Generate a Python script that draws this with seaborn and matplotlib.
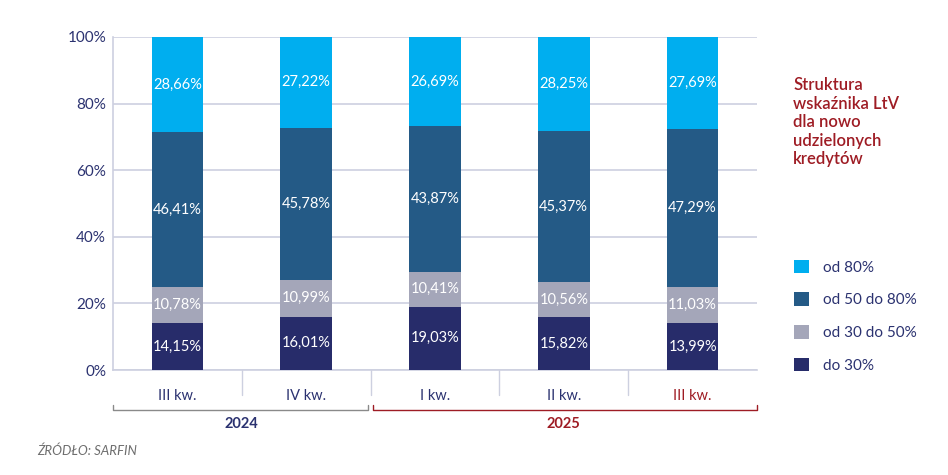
import matplotlib
matplotlib.use("Agg")
import matplotlib.pyplot as plt
import seaborn as sns
import numpy as np
import pandas as pd
from matplotlib.patches import Patch

# ---- data ----
quarters = ["III kw.", "IV kw.", "I kw.", "II kw.", "III kw. "]
quarter_labels = ["III kw.", "IV kw.", "I kw.", "II kw.", "III kw."]
years = ["2024", "2025"]
do30 = [14.15, 16.01, 19.03, 15.82, 13.99]
od30_50 = [10.78, 10.99, 10.41, 10.56, 11.03]
od50_80 = [46.41, 45.78, 43.87, 45.37, 47.29]
od80 = [28.66, 27.22, 26.69, 28.25, 27.69]
series_names = ["do 30%", "od 30 do 50%", "od 50 do 80%", "od 80%"]
title_text = "Struktura\nwskaźnika LtV\ndla nowo\nudzielonych\nkredytów"
source_text = "ŹRÓDŁO: SARFIN"

colors = ["#272C6A", "#A4A6B9", "#245A86", "#00AEEF"]
navy = "#2B3270"
red = "#9E1C24"
grid_c = "#CDD0E0"

sns.set_theme(style="white")
plt.rcParams["font.family"] = ["Lato", "DejaVu Sans"]

fig = plt.figure(figsize=(9.48, 4.75), dpi=100)
ax = fig.add_axes([113/948, 1-370/475, 644/948, 333/475])

series = [do30, od30_50, od50_80, od80]
cum = np.cumsum(np.array(series), axis=0)

# draw stacked bars: tallest cumulative first
for i in range(3, -1, -1):
    df = pd.DataFrame({"q": quarters, "v": cum[i]})
    sns.barplot(data=df, x="q", y="v", order=quarters, color=colors[i],
                width=0.40, saturation=1, ax=ax, zorder=3, linewidth=0)

# labels
for i in range(4):
    for j in range(5):
        bottom = cum[i][j] - series[i][j]
        mid = bottom + series[i][j] / 2
        ax.text(j, mid, f"{series[i][j]:.2f}%".replace(".", ","),
                ha="center", va="center", color="white", fontsize=10.5, zorder=5)

ax.set_ylim(0, 100)
ax.set_xlim(-0.5, 4.5)
ax.set_yticks([0, 20, 40, 60, 80, 100])
ax.set_yticklabels([f"{t}%" for t in [0, 20, 40, 60, 80, 100]], color=navy, fontsize=11)
ax.yaxis.grid(True, color=grid_c, linewidth=1.2, zorder=0)
ax.set_axisbelow(True)
ax.tick_params(axis="y", length=0, pad=5)
ax.tick_params(axis="x", length=0, pad=14)
ax.set_xticks(range(5))
ax.set_xticklabels(quarter_labels, fontsize=10.5)
for k, lab in enumerate(ax.get_xticklabels()):
    lab.set_color(red if k == 4 else navy)
ax.set_xlabel("")
ax.set_ylabel("")
for s in ["top", "right"]:
    ax.spines[s].set_visible(False)
for s in ["left", "bottom"]:
    ax.spines[s].set_color(grid_c)
    ax.spines[s].set_linewidth(1.2)

# separators below axis
trans = ax.get_xaxis_transform()
for xs in [0.5, 1.5, 2.5, 3.5]:
    ax.plot([xs, xs], [0, -0.075], color=grid_c, lw=1.0, transform=trans, clip_on=False)

# year brackets
yb, yt = -0.12, -0.105
ax.plot([-0.5, -0.5, 1.48, 1.48], [yt, yb, yb, yt], color="#8A8A8A", lw=1.0,
        transform=trans, clip_on=False)
ax.plot([1.52, 1.52, 4.5, 4.5], [yt, yb, yb, yt], color=red, lw=1.0,
        transform=trans, clip_on=False)
ax.text(0.5, -0.162, years[0], transform=trans, ha="center", va="center",
        color=navy, fontsize=10.5, fontweight="bold")
ax.text(3.0, -0.162, years[1], transform=trans, ha="center", va="center",
        color=red, fontsize=10.5, fontweight="bold")

# title
fig.text(793/948, 1-77/475, title_text, ha="left", va="top", color=red,
         fontsize=12, fontweight="semibold", linespacing=1.2)

# legend
handles = [Patch(facecolor=colors[i], edgecolor="none") for i in [3, 2, 1, 0]]
labels = [series_names[i] for i in [3, 2, 1, 0]]
leg = fig.legend(handles, labels, loc="upper left", bbox_to_anchor=(780/948, 1-246/475),
                 frameon=False, fontsize=11, labelspacing=1.15, handlelength=1.0,
                 handleheight=1.0, handletextpad=0.9)
for t in leg.get_texts():
    t.set_color(navy)

# source
fig.text(37/948, 1-451/475, source_text, ha="left", va="center", color="#6E6E6E",
         fontsize=9.5, style="italic")

fig.savefig("out.png", dpi=100)
